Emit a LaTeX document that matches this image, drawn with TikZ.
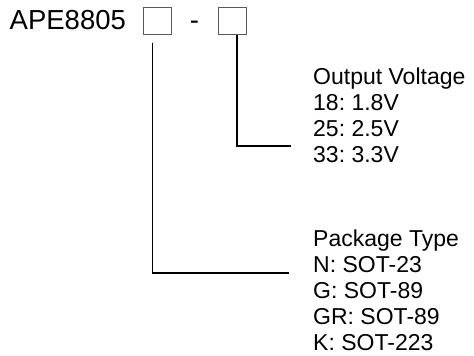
\documentclass[tikz,border=0pt]{standalone}
\usepackage{fontspec}
\setmainfont{Liberation Sans}
\frenchspacing
\begin{document}
\begin{tikzpicture}[x=1pt,y=-1pt,
  label text/.style={inner sep=0pt, anchor=north west, align=left, font=\fontsize{23}{26}\selectfont},
  fieldbox/.style={draw=black!65, line width=1pt, minimum width=28pt, minimum height=27pt, inner sep=0pt},
  lead/.style={draw=black, line width=1.4pt}]
\useasboundingbox (0,0) rectangle (474,356);
\node[inner sep=0pt, anchor=base west, font=\fontsize{27.5}{30}\selectfont] (part) at (9.5,29) {APE8805};
\node[fieldbox] (box1) at (157.5,20.5) {};
\node[inner sep=0pt, anchor=base, font=\fontsize{27.5}{30}\selectfont] (dash) at (194.5,29) {-};
\node[fieldbox] (box2) at (232,20.5) {};
\node[label text] (outv) at (313,67.5) {Output Voltage\\18: 1.8V\\25: 2.5V\\33: 3.3V};
\node[label text] (pkg) at (313,229.5) {Package Type\\N: SOT-23\\G: SOT-89\\GR: SOT-89\\K: SOT-223};
\coordinate (e2) at (291,146);
\coordinate (e1) at (289,273);
\draw[lead] ([shift={(5pt,0pt)}]box2.south) |- (e2);
\draw[lead] ([shift={(-5pt,-8pt)}]box1.south) |- (e1);
\end{tikzpicture}
\end{document}
